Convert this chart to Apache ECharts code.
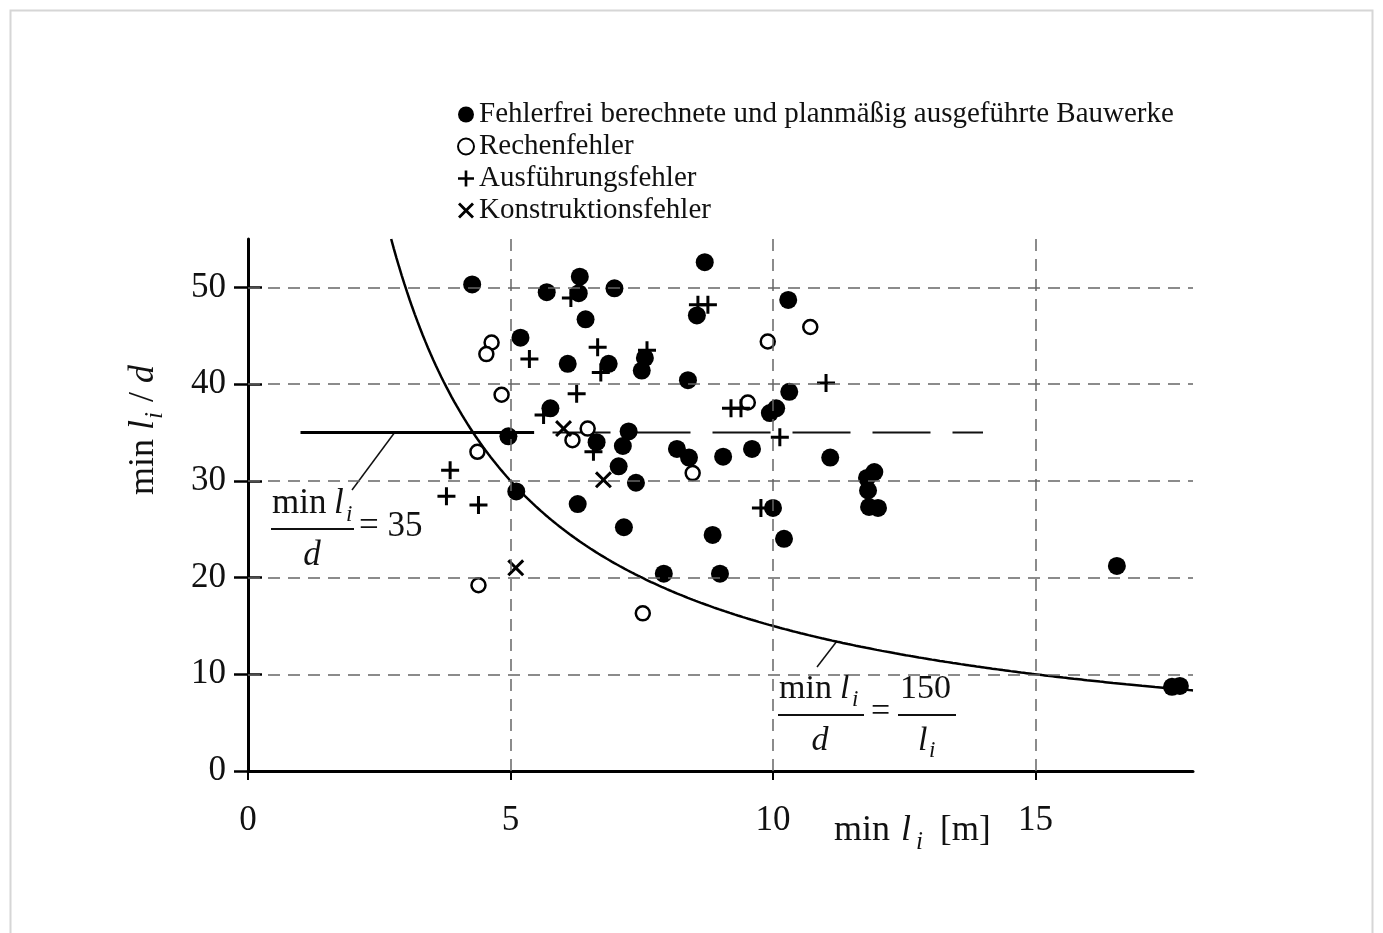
<!DOCTYPE html>
<html><head><meta charset="utf-8">
<script src="https://cdn.jsdelivr.net/npm/echarts@6/dist/echarts.min.js"></script>
<style>html,body{margin:0;padding:0;background:#fff}#c{width:1383px;height:933px}</style>
</head><body><div id="c"></div>
<script>
// ---- data ----
const legendNames = ['Fehlerfrei berechnete und planmäßig ausgeführte Bauwerke', 'Rechenfehler', 'Ausführungsfehler', 'Konstruktionsfehler'];
const xTicks = [0, 5, 10, 15];
const yTicks = [0, 10, 20, 30, 40, 50];
const gridX = [5, 10, 15];
const gridY = [10, 20, 30, 40, 50];
const xRange = [0, 18];
const yRange = [0, 55];

const fehlerfrei = [
  [4.27,50.3],[5.19,44.8],[4.96,34.6],[5.11,28.9],[5.69,49.5],[6.32,51.1],[6.30,49.4],[6.43,46.7],
  [6.98,49.9],[6.09,42.1],[5.76,37.5],[6.87,42.1],[7.56,42.7],[7.50,41.4],[8.70,52.6],[8.55,47.1],
  [8.38,40.4],[6.64,34.0],[7.25,35.1],[7.14,33.6],[7.06,31.5],[7.39,29.8],[6.28,27.6],[7.16,25.2],
  [7.92,20.4],[8.17,33.3],[8.40,32.4],[9.05,32.5],[9.60,33.3],[8.85,24.4],[8.99,20.4],[10.29,48.7],
  [10.31,39.2],[10.06,37.5],[9.94,37.0],[10.0,27.2],[10.21,24.0],[11.09,32.4],[11.93,30.9],[11.79,30.3],
  [11.81,29.0],[11.83,27.3],[12.0,27.2],[16.55,21.2],[17.6,8.7],[17.75,8.8]
];
const rechenfehler = [
  [4.64,44.3],[4.54,43.1],[4.83,38.9],[4.37,33.0],[4.39,19.2],[6.47,35.4],[6.18,34.2],[8.47,30.8],
  [7.52,16.3],[9.90,44.4],[10.71,45.9],[9.52,38.1]
];
const ausfuehrung = [
  [6.15,48.9],[8.57,48.2],[8.76,48.2],[6.66,43.8],[6.72,41.2],[7.60,43.5],[5.36,42.6],[6.26,39.0],
  [11.01,40.1],[9.20,37.5],[9.39,37.5],[5.63,36.8],[6.58,33.0],[10.13,34.5],[9.77,27.2],[3.85,31.1],
  [3.78,28.4],[4.39,27.5]
];
const konstruktion = [[6.01,35.4],[6.77,30.1],[5.10,21.0]];

// reference lines shown in the chart
const limitConst = 150;          // min l_i / d = 150 / l_i
const limitRatio = 35;           // min l_i / d = 35
const ratioSolidSpan = [1, 5.45];
const ratioDashSpan = [5.8, 14];

// ---- build ----
const SERIF = '"Liberation Serif", "DejaVu Serif", serif';
const curve = [];
for (let x = limitConst / yRange[1]; x <= xRange[1] + 1e-9; x += 0.05) curve.push([x, limitConst / x]);
curve.push([xRange[1], limitConst / xRange[1]]);

const gridLines = [];
gridY.forEach(v => gridLines.push([{coord: [xRange[0], v]}, {coord: [xRange[1], v]}]));
gridX.forEach(v => gridLines.push([{coord: [v, yRange[0]]}, {coord: [v, yRange[1]]}]));

const PLUS = 'path://M-1.5,-9H1.5V-1.5H9V1.5H1.5V9H-1.5V1.5H-9V-1.5H-1.5Z';
const CROSS = 'path://M-8,-6L-6,-8L0,-2L6,-8L8,-6L2,0L8,6L6,8L0,2L-6,8L-8,6L-2,0Z';

function t(x, y, text, size, italic, align) {
  return {type: 'text', x: x, y: y, silent: true, style: {
    text: text, fill: '#111', font: (italic ? 'italic ' : '') + size + 'px ' + SERIF,
    textAlign: align || 'left', textVerticalAlign: 'middle'}};
}
function ln(x1, y1, x2, y2, w) {
  return {type: 'line', silent: true, shape: {x1, y1, x2, y2}, style: {stroke: '#111', lineWidth: w || 1.5}};
}

const chart = echarts.init(document.getElementById('c'), null, {renderer: 'canvas'});
const axisBase = {
  axisLine: {show: true, onZero: false, lineStyle: {color: '#000', width: 3}},
  splitLine: {show: false}
};
chart.setOption({
  backgroundColor: '#fff',
  animation: false,
  grid: {left: 248, right: 190, top: 239, bottom: 162, containLabel: false},
  legend: {
    orient: 'vertical', left: 452, top: 95, itemGap: 3, itemWidth: 16, itemHeight: 16,
    data: legendNames, selectedMode: false,
    textStyle: {fontFamily: SERIF, fontSize: 29, color: '#111'}
  },
  xAxis: Object.assign({
    type: 'value', min: xRange[0], max: xRange[1],
    axisTick: {show: true, customValues: xTicks, length: 9, lineStyle: {color: '#000', width: 2}},
    axisLabel: {customValues: xTicks, margin: 32, fontFamily: SERIF, fontSize: 35, color: '#111'}
  }, axisBase),
  yAxis: [
    Object.assign({
      type: 'value', min: yRange[0], max: yRange[1],
      axisTick: {show: true, customValues: yTicks, length: 14, lineStyle: {color: '#000', width: 2.5}},
      axisLabel: {customValues: yTicks, margin: 22, fontFamily: SERIF, fontSize: 35, color: '#111'}
    }, axisBase),
    Object.assign({
      type: 'value', min: yRange[0], max: yRange[1],
      axisTick: {show: true, inside: true, customValues: yTicks, length: 14, lineStyle: {color: '#000', width: 2.5}},
      axisLabel: {show: false}
    }, axisBase, {position: 'left', axisLine: {show: false}})
  ],
  series: [
    {type: 'line', name: 'limit', data: curve, showSymbol: false, symbol: 'none', z: 2,
     lineStyle: {color: '#000', width: 2.5}, silent: true,
     markLine: {silent: true, symbol: ['none', 'none'], label: {show: false}, animation: false,
       lineStyle: {color: '#666', width: 1.5, type: [12, 8]}, emphasis: {disabled: true}, data: gridLines}},
    {type: 'line', name: 'r35a', data: [[ratioSolidSpan[0], limitRatio], [ratioSolidSpan[1], limitRatio]],
     showSymbol: false, symbol: 'none', z: 2, silent: true, lineStyle: {color: '#000', width: 3}},
    {type: 'line', name: 'r35b', data: [[ratioDashSpan[0], limitRatio], [ratioDashSpan[1], limitRatio]],
     showSymbol: false, symbol: 'none', z: 2, silent: true, lineStyle: {color: '#111', width: 2, type: [58, 22]}},
    {type: 'scatter', name: legendNames[0], data: fehlerfrei, symbol: 'circle', symbolSize: 18, z: 4,
     itemStyle: {color: '#000', opacity: 1}},
    {type: 'scatter', name: legendNames[1], data: rechenfehler, symbol: 'circle', symbolSize: 14, z: 4,
     itemStyle: {color: '#fff', borderColor: '#000', borderWidth: 2.5, opacity: 1}},
    {type: 'scatter', name: legendNames[2], data: ausfuehrung, symbol: PLUS, symbolSize: 18, z: 4,
     itemStyle: {color: '#000', opacity: 1}},
    {type: 'scatter', name: legendNames[3], data: konstruktion, symbol: CROSS, symbolSize: 17, z: 4,
     itemStyle: {color: '#000', opacity: 1}}
  ],
  graphic: [
    {type: 'rect', silent: true, shape: {x: 10.5, y: 10.5, width: 1362, height: 960},
     style: {fill: 'none', stroke: '#d6d6d6', lineWidth: 2}},
    // x axis name
    t(834, 831, 'min', 36), t(901, 831, 'l', 36, true), t(916, 842, 'i', 25, true), t(940, 831, '[m]', 35),
    // y axis name (rotated)
    {type: 'group', x: 156, y: 495, rotation: Math.PI / 2, children: [
      t(0, -12, 'min', 36), t(65, -12, 'l', 36, true), t(76, -1, 'i', 25, true),
      t(93, -12, '/', 36), t(112, -12, 'd', 36, true)]},
    // annotation: min l_i / d = 35
    t(272, 504, 'min', 35), t(334, 504, 'l', 35, true), t(346, 515, 'i', 23, true),
    ln(271, 529, 354, 529, 1.8), t(312, 556, 'd', 35, true, 'center'), t(359, 527, '= 35', 35),
    ln(352, 490, 395, 432, 1.5),
    // annotation: min l_i / d = 150 / l_i
    t(779, 689, 'min', 34), t(840, 689, 'l', 34, true), t(852, 700, 'i', 23, true),
    ln(778, 715, 864, 715, 1.8), t(820, 741, 'd', 34, true, 'center'), t(871, 712, '=', 34),
    t(900, 689, '150', 34), ln(898, 715, 956, 715, 1.8), t(918, 741, 'l', 34, true), t(929, 751, 'i', 23, true),
    ln(817, 667, 837, 641, 1.5)
  ]
});
</script></body></html>
